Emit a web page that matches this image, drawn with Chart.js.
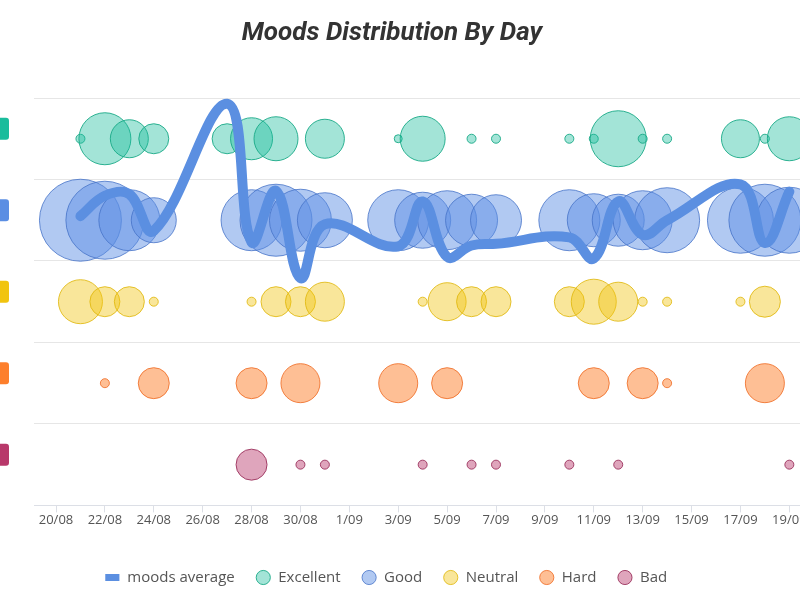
<!DOCTYPE html>
<html>
<head>
<meta charset="utf-8">
<title>Moods Distribution By Day</title>
<script src="https://cdn.jsdelivr.net/npm/chart.js@4.4.1/dist/chart.umd.min.js"></script>
<style>
    html, body { margin: 0; padding: 0; background: #fff; overflow: hidden; }
    .chart-title {
        position: absolute; left: 0; top: 14px; width: 784px;
        text-align: center; font: italic bold 26px Roboto, sans-serif; line-height: 34px; color: #333;
        z-index: 1;
    }
    .chart-wrap { position: absolute; left: -32px; top: 0; width: 840px; height: 600px; }
</style>
</head>
<body>
<div class="chart-title">Moods Distribution By Day</div>
<div class="chart-wrap"><canvas id="moods-chart" width="840" height="600"></canvas></div>
<script>
// --- Data ---
const days = ['21/08', '22/08', '23/08', '24/08', '27/08', '28/08', '29/08', '30/08', '31/08',
    '3/09', '4/09', '5/09', '6/09', '7/09', '10/09', '11/09', '12/09', '13/09', '14/09',
    '17/09', '18/09', '19/09'];

// bubble sizes per day (0 = no entry that day)
const excellent = [4.5, 26, 19, 15, 15, 21, 22, 0, 19.5, 4, 22.5, 0, 4.5, 4.5, 4.5, 4.5, 28, 4.5, 4.5, 19, 4.5, 22];
const good      = [41, 39, 30.5, 22.5, 0, 30.5, 36, 31, 27.5, 30.5, 28, 29.5, 26, 25.5, 30.5, 26.5, 26, 29.5, 32.5, 33, 36, 33];
const neutral   = [22, 15, 15, 4.5, 0, 4.5, 15, 15, 19.5, 0, 4.5, 19, 15, 15, 15, 22.5, 19.5, 4.5, 4.5, 4.5, 15.5, 0];
const hard      = [0, 4.5, 0, 15.5, 0, 15.5, 0, 19.5, 0, 19.5, 0, 15.5, 0, 0, 0, 15.5, 0, 15.5, 4.5, 0, 19.5, 0];
const bad       = [0, 0, 0, 0, 0, 15.5, 0, 4.5, 4.5, 0, 4.5, 0, 4.5, 4.5, 4.5, 0, 4.5, 0, 0, 0, 0, 4.5];

const moodsAverage = [3.55, 3.80, 3.82, 3.37, 4.93, 3.23, 3.86, 2.79, 3.45, 3.18, 3.73, 3.05, 3.19, 3.21,
    3.29, 3.03, 3.73, 3.32, 3.50, 3.94, 3.22, 3.85];

const tickLabels = ['20/08', '22/08', '24/08', '26/08', '28/08', '30/08', '1/09', '3/09', '5/09',
    '7/09', '9/09', '11/09', '13/09', '15/09', '17/09', '19/09'];

// rows bottom to top
const moodNames = ['Bad', 'Hard', 'Neutral', 'Good', 'Excellent'];
const moodColors = ['#b8386a', '#fd7f2c', '#f1c40f', '#5b8ee3', '#1abc9c'];
const moodFills = ['rgba(184, 56, 106, 0.45)', 'rgba(253, 127, 44, 0.5)', 'rgba(241, 196, 15, 0.42)',
    'rgba(91, 142, 227, 0.48)', 'rgba(26, 188, 156, 0.4)'];
const moodBorders = ['rgba(150, 40, 85, 0.85)', 'rgba(240, 110, 40, 0.85)', 'rgba(225, 185, 15, 0.85)',
    'rgba(70, 115, 200, 0.8)', 'rgba(26, 170, 135, 0.9)'];
const moodSeries = [bad, hard, neutral, good, excellent];

// days since 20/08
function dayOffset(label) {
    const [d, m] = label.split('/').map(Number);
    return Math.round((Date.UTC(2017, m - 1, d) - Date.UTC(2017, 7, 20)) / 86400000);
}
const tickDays = tickLabels.map(dayOffset);

function bubblePoints(sizes, row) {
    return days.map((d, i) => ({ x: dayOffset(d), y: row + 0.5, r: sizes[i] }))
        .filter(p => p.r > 0);
}

// --- Row markers on the left edge ---
const rowMarkers = {
    id: 'rowMarkers',
    afterDraw(chart) {
        const { ctx, scales: { y } } = chart;
        ctx.save();
        moodNames.forEach((name, i) => {
            const cy = y.getPixelForValue(i + 0.5) - 10;
            ctx.fillStyle = moodColors[i];
            ctx.beginPath();
            ctx.roundRect(19, cy - 11, 22, 22, 3);
            ctx.fill();
        });
        ctx.restore();
    }
};

const bubbleSets = moodNames.map((name, i) => ({
    type: 'bubble',
    label: name,
    data: bubblePoints(moodSeries[i], i),
    backgroundColor: moodFills[i],
    borderColor: moodBorders[i],
    borderWidth: 1
})).reverse(); // Excellent first in the legend

const lineColor = '#5b8fe1';

new Chart(document.getElementById('moods-chart'), {
    type: 'bubble',
    data: {
        datasets: [{
            type: 'line',
            label: 'moods average',
            data: days.map((d, i) => ({ x: dayOffset(d), y: moodsAverage[i] })),
            borderColor: lineColor,
            backgroundColor: lineColor,
            borderWidth: 10,
            borderCapStyle: 'round',
            borderJoinStyle: 'round',
            tension: 0.4,
            pointRadius: 0,
            pointHoverRadius: 0,
            pointStyle: 'line',
            fill: false
        }, ...bubbleSets]
    },
    options: {
        responsive: false,
        animation: false,
        layout: { autoPadding: false, padding: { top: 98, bottom: 5, right: 4 } },
        scales: {
            x: {
                type: 'linear',
                min: -0.9,
                max: 30.6,
                afterBuildTicks: (scale) => {
                    scale.ticks = tickDays.map(v => ({ value: v }));
                },
                afterFit: (scale) => { scale.height += 21; },
                grid: { drawOnChartArea: false, drawTicks: true, tickLength: 7, color: '#dcdfe6' },
                border: { color: '#dcdfe6' },
                ticks: {
                    autoSkip: false,
                    maxRotation: 0,
                    padding: 0,
                    color: '#555',
                    font: { family: 'Open Sans', size: 13 },
                    callback: (value) => tickLabels[tickDays.indexOf(value)]
                }
            },
            y: {
                min: 0,
                max: 5,
                afterFit: (scale) => { scale.width = 66; },
                grid: { color: '#e6e6e6', drawTicks: false },
                border: { display: false },
                ticks: { display: false, stepSize: 1 }
            }
        },
        plugins: {
            title: { display: false },
            legend: {
                position: 'bottom',
                labels: {
                    usePointStyle: true,
                    boxHeight: 10,
                    padding: 21,
                    color: '#555',
                    font: { family: 'Open Sans', size: 15 },
                    generateLabels: (chart) => {
                        const items = Chart.defaults.plugins.legend.labels.generateLabels(chart);
                        items.forEach(item => {
                            if (item.datasetIndex === 0) {
                                item.pointStyle = 'line';
                                item.lineWidth = 7;
                                item.strokeStyle = lineColor;
                            }
                        });
                        return items;
                    }
                }
            }
        }
    },
    plugins: [rowMarkers]
});
</script>
</body>
</html>
